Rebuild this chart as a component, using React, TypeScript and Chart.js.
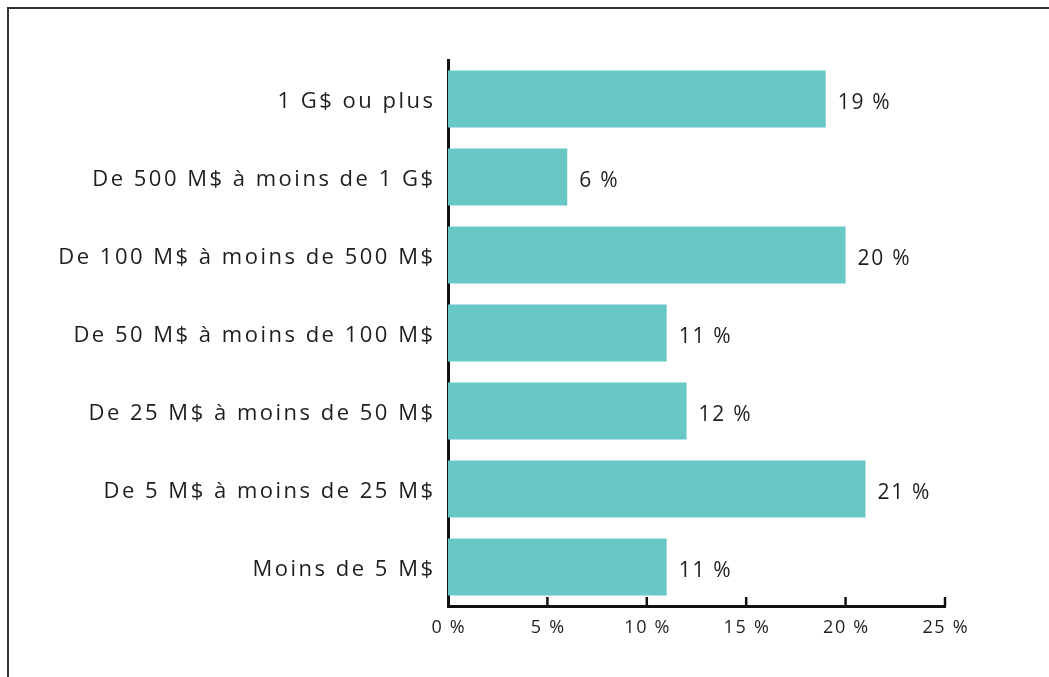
import React, { useEffect, useRef } from "react";
import { Chart, registerables } from "chart.js";

Chart.register(...registerables);

const categories = [
  "1 G$ ou plus",
  "De 500 M$ à moins de 1 G$",
  "De 100 M$ à moins de 500 M$",
  "De 50 M$ à moins de 100 M$",
  "De 25 M$ à moins de 50 M$",
  "De 5 M$ à moins de 25 M$",
  "Moins de 5 M$",
];
const values = [19, 6, 20, 11, 12, 21, 11];
const xTicks = [0, 5, 10, 15, 20, 25];

const FONT = "'Open Sans', sans-serif";
const TEXT = "#1e1e1e";
const BAR = "#68C8C5";

const CANVAS_W = 1040;
const CANVAS_H = 668;

function drawSpaced(
  ctx: any,
  text: string,
  x: number,
  y: number,
  align: "left" | "right" | "center",
  spacing: number
) {
  ctx.letterSpacing = `${spacing}px`;
  ctx.textAlign = align;
  let dx = 0;
  if (align === "right") dx = spacing;
  if (align === "center") dx = spacing / 2;
  ctx.fillText(text, x + dx, y);
  ctx.letterSpacing = "0px";
}

const customText = {
  id: "customText",
  afterDraw(chart: any) {
    const ctx = chart.ctx;
    const xs = chart.scales.x;
    const ys = chart.scales.y;
    const area = chart.chartArea;
    ctx.save();
    // upward tick marks
    ctx.strokeStyle = "#111";
    ctx.lineWidth = 2.5;
    xTicks.slice(1).forEach((v) => {
      const px = xs.getPixelForValue(v);
      ctx.beginPath();
      ctx.moveTo(px, area.bottom);
      ctx.lineTo(px, area.bottom - 9);
      ctx.stroke();
    });
    ctx.fillStyle = TEXT;
    ctx.textBaseline = "middle";
    // x tick labels
    ctx.font = `18px ${FONT}`;
    xTicks.forEach((v) => {
      drawSpaced(ctx, `${v} %`, xs.getPixelForValue(v), area.bottom + 22, "center", 1.7);
    });
    // y category labels
    ctx.font = `22px ${FONT}`;
    categories.forEach((c, i) => {
      drawSpaced(ctx, c, area.left - 15, ys.getPixelForValue(i) + 3, "right", 2.5);
    });
    // value labels
    ctx.font = `21px ${FONT}`;
    const meta = chart.getDatasetMeta(0);
    meta.data.forEach((bar: any, i: number) => {
      drawSpaced(ctx, `${values[i]} %`, bar.x + 12, bar.y + 4, "left", 1.7);
    });
    ctx.restore();
  },
};

export default function App() {
  const ref = useRef<HTMLCanvasElement>(null);
  useEffect(() => {
    if (!ref.current) return;
    const chart = new Chart(ref.current, {
      type: "bar",
      data: {
        labels: categories,
        datasets: [
          {
            data: values,
            backgroundColor: BAR,
            borderWidth: 0,
            barPercentage: 0.73,
            categoryPercentage: 1,
          },
        ],
      },
      options: {
        indexAxis: "y",
        responsive: false,
        animation: false,
        maintainAspectRatio: false,
        layout: { padding: { top: 51, right: 104, bottom: 0, left: 0 } },
        plugins: { legend: { display: false }, tooltip: { enabled: false } },
        scales: {
          x: {
            min: 0,
            max: 25,
            afterBuildTicks: (s: any) => {
              s.ticks = xTicks.map((v) => ({ value: v }));
            },
            afterFit: (s: any) => {
              s.height = 71;
            },
            grid: { display: false, drawTicks: false },
            border: { display: true, color: "#111", width: 3 },
            ticks: { display: false },
          },
          y: {
            z: 1,
            afterFit: (s: any) => {
              s.width = 439;
            },
            grid: { display: false, drawTicks: false },
            border: { display: true, color: "#111", width: 3 },
            ticks: { display: false },
          },
        },
      },
      plugins: [customText],
    });
    return () => chart.destroy();
  }, []);
  return (
    <div
      style={{
        position: "absolute",
        left: 7,
        top: 7,
        width: 1200,
        height: 800,
        border: "2px solid #333",
        boxSizing: "border-box",
      }}
    >
      <canvas
        ref={ref}
        width={CANVAS_W}
        height={CANVAS_H}
        style={{ display: "block", width: CANVAS_W, height: CANVAS_H }}
      />
    </div>
  );
}
